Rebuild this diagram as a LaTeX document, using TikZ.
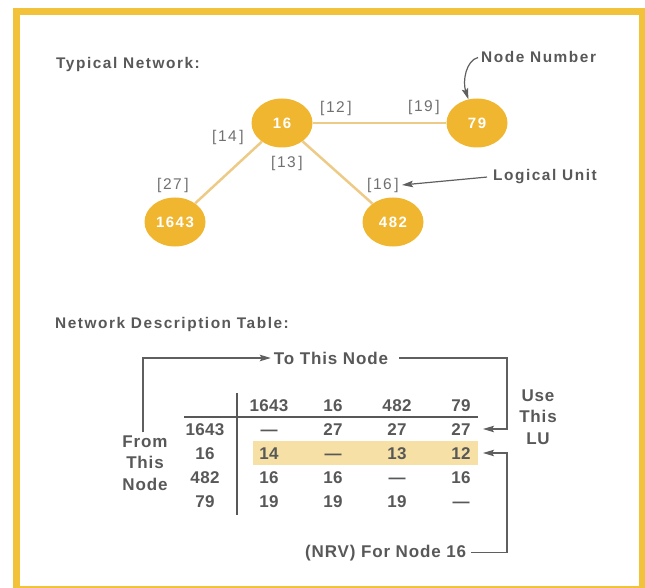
\documentclass[tikz,border=0pt]{standalone}
\usepackage{fontspec}
\setmainfont{Liberation Sans}
\newfontfamily\headfont{Liberation Sans}[LetterSpace=10]
\newfontfamily\labfont{Liberation Sans}[LetterSpace=5]
\newfontfamily\tabfont{Liberation Sans}[LetterSpace=2]
\usetikzlibrary{arrows.meta,positioning,shapes.geometric}

\definecolor{framegold}{RGB}{241,194,58}
\definecolor{nodegold}{RGB}{240,182,48}
\definecolor{linktan}{RGB}{238,202,135}
\definecolor{hilite}{RGB}{246,224,165}
\definecolor{textgray}{RGB}{88,88,88}
\definecolor{labgray}{RGB}{112,112,112}
\definecolor{arrowgray}{RGB}{95,95,95}

\begin{document}
\begin{tikzpicture}[
	x=1pt, y=-1pt,
	netnode/.style={ellipse, fill=nodegold, text=white, minimum width=61pt, minimum height=49pt, inner sep=0pt, font=\headfont\bfseries\fontsize{15}{18}\selectfont},
	link/.style={draw=linktan, line width=2.5pt},
	lulabel/.style={text=labgray, inner sep=3pt, font=\headfont\fontsize{15.5}{18}\selectfont},
	heading/.style={anchor=base west, inner sep=0pt, text=textgray, font=\headfont\bfseries\fontsize{15.4}{18}\selectfont},
	caption/.style={text=textgray, inner sep=3pt, align=center, font=\labfont\bfseries\fontsize{17}{21.5}\selectfont},
	cell/.style={text=textgray, inner sep=0pt, text height=12.2pt, text depth=0pt, font=\tabfont\bfseries\fontsize{17}{20}\selectfont},
	pointer/.style={draw=arrowgray, line width=1.2pt, -{Stealth[length=11pt, width=6.5pt, inset=2pt]}},
	rule/.style={draw=textgray, line width=1.3pt}
]
\useasboundingbox (0,0) rectangle (645,588);

% Frame
\draw[framegold, line width=7pt] (16.5,11.5) rectangle (642.5,589.5);

% Typical network
\node[heading] (nettitle) at (56,69) {Typical Network:};

\node[netnode] (n16) at (282,123) {16};
\node[netnode] (n79) at (477,123) {79};
\node[netnode] (n1643) at (175,222) {1643};
\node[netnode] (n482) at (393,222) {482};

\draw[link] (n16) -- (n79);
\draw[link] (n16) -- (n1643);
\draw[link] (n16) -- (n482);

% Logical units
\node[lulabel] (lu12) at (336,108) {[12\,]};
\node[lulabel] (lu19) at (424,107) {[19\,]};
\node[lulabel] (lu14) at (228,137) {[14\,]};
\node[lulabel] (lu13) at (287,163) {[13\,]};
\node[lulabel] (lu27) at (173,185) {[27\,]};
\node[lulabel] (lu16) at (383,185) {[16\,]};

% Callouts
\node[heading] (nodenum) at (481,63) {Node Number};
\node[heading] (logunit) at (493,181) {Logical Unit};
\draw[pointer] ([xshift=-3pt]nodenum.west) .. controls +(-12,3) and +(-6,-18) .. (n79.110);
\draw[pointer] ([xshift=-6pt]logunit.west) -- (lu16.east);

% Network description table
\node[heading] (tabtitle) at (55,328) {Network Description Table:};

\fill[hilite] (253,441) rectangle (478,465);
\draw[rule] (237,393) -- (237,515);
\draw[rule] (184,417) -- (478,417);

\foreach \name [count=\c] in {1643,16,482,79}
	\node[cell] (col\c) at (205+64*\c,405) {\name};
\foreach \name [count=\r] in {1643,16,482,79}
	\node[cell] (row\r) at (205,405+24*\r) {\name};
\foreach \va/\vb/\vc/\vd [count=\r] in {—/27/27/27, 14/—/13/12, 16/16/—/16, 19/19/19/—}
	\foreach \v [count=\c] in {\va,\vb,\vc,\vd}
		\node[cell] (v\r\c) at (205+64*\c,405+24*\r) {\v};

% Table captions
\node[caption] (tothis) at (331,358) {To This Node};
\node[caption] (fromthis) at (145,463) {From\\This\\Node};
\node[caption] (uselu) at (538,417) {Use\\This\\LU};
\node[caption, anchor=base west] (nrv) at (302,557) {(NRV) For Node 16};

\coordinate (tipA) at (483,429);
\coordinate (tipB) at (483,453);
\draw[pointer] ([xshift=-2pt]fromthis.north) |- (tothis.west);
\draw[pointer] ([xshift=8pt]tothis.east) -| ([xshift=24pt]tipA) -- (tipA);
\draw[pointer] ([xshift=2pt]nrv.east) -| ([xshift=24pt]tipB) -- (tipB);

\end{tikzpicture}
\end{document}
